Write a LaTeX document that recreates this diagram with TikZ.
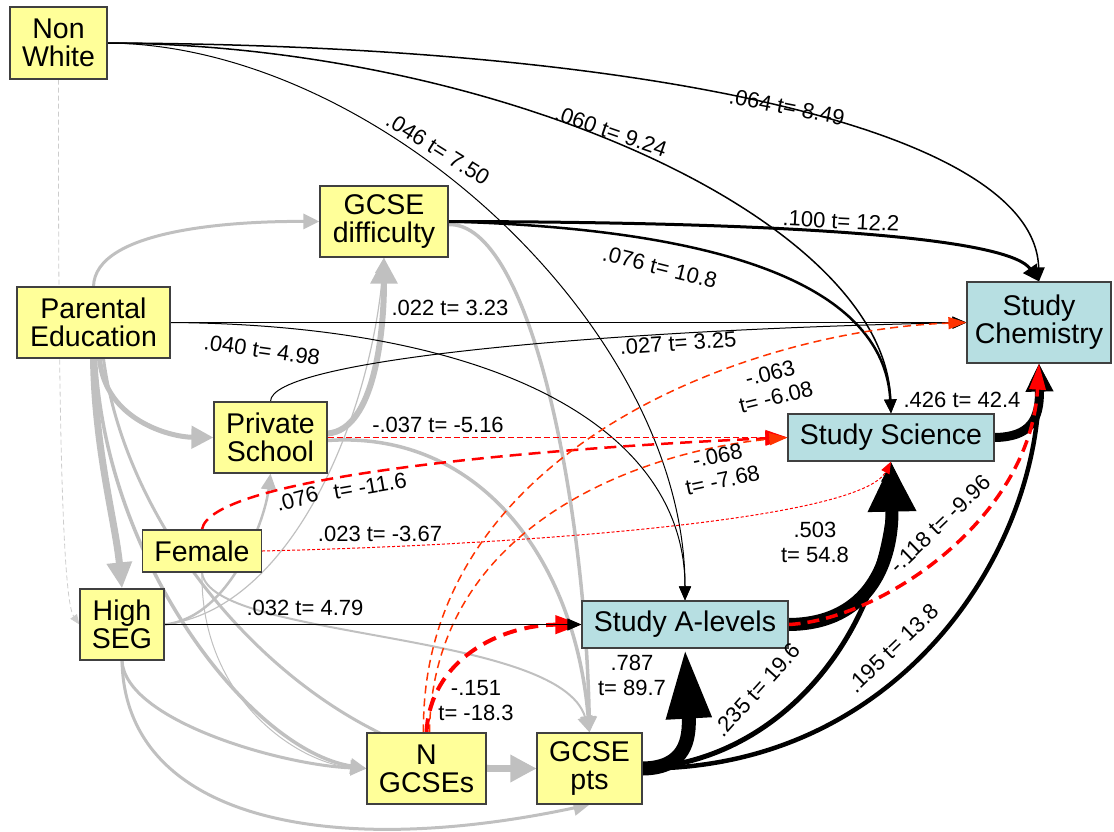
\documentclass[tikz,border=0pt]{standalone}
\usepackage{fontspec}
\setmainfont{Liberation Sans}
\usepackage{xcolor}
\usetikzlibrary{arrows.meta}
\pgfdeclarelayer{edges}
\pgfsetlayers{edges,main}
\definecolor{boxyellow}{RGB}{255,255,153}
\definecolor{boxteal}{RGB}{183,223,226}
\definecolor{pathgrey}{RGB}{192,192,192}
\definecolor{negred}{RGB}{255,0,0}
\definecolor{negorange}{RGB}{255,51,0}

\begin{document}
\begin{tikzpicture}[x=1pt,y=-1pt,
    var/.style={draw=black!75, fill=boxyellow, align=center, inner sep=0pt,
      line width=1.2pt, font=\fontsize{28.5}{28}\selectfont},
    outc/.style={var, fill=boxteal},
    lbl/.style={inner sep=0pt, align=center, font=\fontsize{22}{25}\selectfont},
    beff/.style={draw=black, -{Triangle[length=14pt,width=12pt]}},
    geff/.style={draw=pathgrey, -{Triangle[length=16pt,width=15pt]}},
    reff/.style={draw=negred, dash pattern=on 12pt off 7pt, -{Triangle[length=22pt,width=14pt]}},
    oeff/.style={draw=negorange, line width=1.5pt, dash pattern=on 8pt off 5pt, -{Triangle[length=18pt,width=12pt]}}]
     \useasboundingbox (0,0) rectangle (1114,831);

     % variables
     \node[var, minimum width=97, minimum height=72] (nw) at (58.5,43) {Non\\White};
     \node[var, minimum width=128, minimum height=71] (gd) at (384,221.5) {GCSE\\difficulty};
     \node[var, minimum width=153, minimum height=71] (pe) at (93.5,322.5) {Parental\\Education};
     \node[var, minimum width=113, minimum height=71] (ps) at (270.5,437.5) {Private\\School};
     \node[var, minimum width=119, minimum height=42] (fe) at (202,551) {Female};
     \node[var, minimum width=84, minimum height=71] (hs) at (122,624.5) {High\\SEG};
     \node[var, minimum width=119, minimum height=71] (ng) at (426.5,768.5) {N\\GCSEs};
     \node[var, minimum width=105, minimum height=71] (gp) at (589.5,768.5) {GCSE\\pts};
     \node[outc, minimum width=206, minimum height=47] (al) at (685,624.5) {Study A-levels};
     \node[outc, minimum width=206, minimum height=47] (sc) at (891,437.5) {Study Science};
     \node[outc, minimum width=144, minimum height=81] (ch) at (1039,322.5) {Study\\Chemistry};

     \begin{pgfonlayer}{edges}
     % grey paths between the predictors
     \draw[draw=pathgrey!80, line width=0.8pt, dash pattern=on 5pt off 3pt, -{Triangle[length=10pt,width=8pt]}] (nw.south) .. controls (58,400) and (62,600) .. (hs.west);
     \draw[geff, line width=3pt] (pe.north) .. controls (95,230) and (230,221) .. (gd.west);
     \draw[geff, line width=5pt, -{Triangle[length=22pt,width=22pt]}] ([xshift=6]pe.south) .. controls (105,420) and (170,437) .. (ps.west);
     \draw[geff, line width=7pt, -{Triangle[length=26pt,width=24pt]}] (pe.south) .. controls (95,450) and (115,520) .. (hs.north);
     \draw[geff, line width=3.5pt] ([xshift=2]pe.south) .. controls (105,560) and (250,750) .. (ng.west);
     \draw[geff, line width=3pt] ([xshift=10]pe.south) .. controls (130,560) and (330,768) .. (gp.west);
     \draw[geff, line width=6pt, -{Triangle[length=26pt,width=26pt]}] ([yshift=4]ps.east) .. controls (375,430) and (384,330) .. (gd.south);
     \draw[geff, line width=3.5pt] ([yshift=-3]ps.east) .. controls (480,430) and (575,560) .. (gp.north);
     \draw[geff, line width=3.5pt] ([yshift=-3]gd.east) .. controls (530,222) and (585,500) .. (gp.north);
     \draw[geff, line width=2.5pt] (hs.east) .. controls (230,618) and (265,520) .. (ps.south);
     \draw[geff, line width=1.2pt] (hs.east) .. controls (290,610) and (370,420) .. (gd.south);
     \draw[geff, line width=3pt] (hs.south) .. controls (125,720) and (280,765) .. (ng.west);
     \draw[geff, line width=3pt] (hs.south) .. controls (125,820) and (330,860) .. (gp.south);
     \draw[geff, line width=1pt, -{Triangle[length=12pt,width=10pt]}] (fe.south) .. controls (200,700) and (300,765) .. (ng.west);
     \draw[geff, line width=2pt] (fe.south) .. controls (210,640) and (560,630) .. (gp.north);
     \draw[geff, line width=7pt, -{Triangle[length=26pt,width=26pt]}] (ng.east) -- (gp.west);

     % positive effects
     \draw[beff, line width=1.5pt] (nw.east) .. controls (650,45) and (1035,130) .. (ch.north);
     \draw[beff, line width=1.5pt] (nw.east) .. controls (500,45) and (885,220) .. (sc.north);
     \draw[beff, line width=1pt] (nw.east) .. controls (380,45) and (685,330) .. (al.north);
     \draw[beff, line width=3pt, -{Triangle[length=16pt,width=16pt]}] (gd.east) .. controls (820,222) and (1010,240) .. (ch.north);
     \draw[beff, line width=2.5pt] (gd.east) .. controls (760,230) and (885,300) .. (sc.north);
     \draw[beff, line width=1pt] (pe.east) -- (ch.west);
     \draw[beff, line width=1pt] (pe.east) .. controls (500,325) and (685,430) .. (al.north);
     \draw[beff, line width=1pt] (ps.north) .. controls (270,360) and (600,330) .. (ch.west);
     \draw[beff, line width=13pt, -{Triangle[length=50pt,width=45pt]}] (al.east) .. controls (870,624) and (893,560) .. (sc.south);
     \draw[beff, line width=9pt, -{Triangle[length=28pt,width=26pt]}] (sc.east) .. controls (1030,437) and (1040,420) .. (ch.south);
     \draw[beff, line width=14pt, -{Triangle[length=70pt,width=42pt]}] (gp.east) .. controls (685,768) and (690,740) .. (al.south);
     \draw[beff, line width=5pt, -{Triangle[length=20pt,width=18pt]}] (gp.east) .. controls (790,760) and (890,620) .. (sc.south);
     \draw[beff, line width=4.5pt, -{Triangle[length=20pt,width=18pt]}] (gp.east) .. controls (900,770) and (1040,550) .. (ch.south);

     % negative effects
     \draw[draw=negred, line width=1pt, dash pattern=on 6pt off 3pt, -{Triangle[length=22pt,width=15pt]}] (ps.east) -- (sc.west);
     \draw[reff, line width=2.5pt] (fe.north) .. controls (210,480) and (500,450) .. (sc.west);
     \draw[draw=negred, line width=1pt, dash pattern=on 3pt off 2pt, -{Triangle[length=12pt,width=9pt]}] (fe.east) .. controls (520,545) and (860,520) .. (sc.south);
     \draw[oeff] ([xshift=-3]ng.north) .. controls (420,450) and (750,330) .. (ch.west);
     \draw[oeff] ([xshift=3]ng.north) .. controls (432,520) and (650,450) .. (sc.west);
     \draw[reff, line width=4pt, dash pattern=on 14pt off 8pt, -{Triangle[length=26pt,width=18pt]}] (ng.north) .. controls (430,660) and (500,625) .. (al.west);
     \draw[reff, line width=3.5pt, -{Triangle[length=26pt,width=16pt]}] (al.east) .. controls (880,620) and (1030,520) .. (ch.south);
     \draw[beff, line width=1pt] (hs.east) -- (al.west);
     \end{pgfonlayer}

     % coefficients
     \node[lbl, rotate=-11] (l1) at (787,107) {.064 t= 8.49};
     \node[lbl, rotate=-19] (l2) at (611,131) {.060 t= 9.24};
     \node[lbl, rotate=-32] (l3) at (438,149) {.046 t= 7.50};
     \node[lbl, rotate=-3] (l4) at (841,221) {.100 t= 12.2};
     \node[lbl, rotate=-14] (l5) at (660,267) {.076 t= 10.8};
     \node[lbl] (l6) at (450,308) {.022 t= 3.23};
     \node[lbl, rotate=-8] (l7) at (262,350) {.040 t= 4.98};
     \node[lbl, rotate=4] (l8) at (678,343) {.027 t= 3.25};
     \node[lbl, rotate=14] (l9) at (773,385) {-.063\\t= -6.08};
     \node[lbl] (l10) at (438,425) {-.037 t= -5.16};
     \node[lbl, rotate=15] (l11) at (297,499) {.076};
     \node[lbl, rotate=10] (l12) at (370,486) {t= -11.6};
     \node[lbl, rotate=12] (l13) at (720,468) {-.068\\t= -7.68};
     \node[lbl] (l14) at (380,534) {.023 t= -3.67};
     \node[lbl] (l15) at (815,542) {.503\\t= 54.8};
     \node[lbl] (l16) at (962,400) {.426 t= 42.4};
     \node[lbl, rotate=44] (l17) at (940,524) {-.118 t= -9.96};
     \node[lbl] (l18) at (305,608) {.032 t= 4.79};
     \node[lbl] (l19) at (632,675) {.787\\t= 89.7};
     \node[lbl] (l20) at (476,701) {-.151\\t= -18.3};
     \node[lbl, rotate=48] (l21) at (757,690) {.235 t= 19.6};
     \node[lbl, rotate=44] (l22) at (893,648) {.195 t= 13.8};
\end{tikzpicture}
\end{document}
